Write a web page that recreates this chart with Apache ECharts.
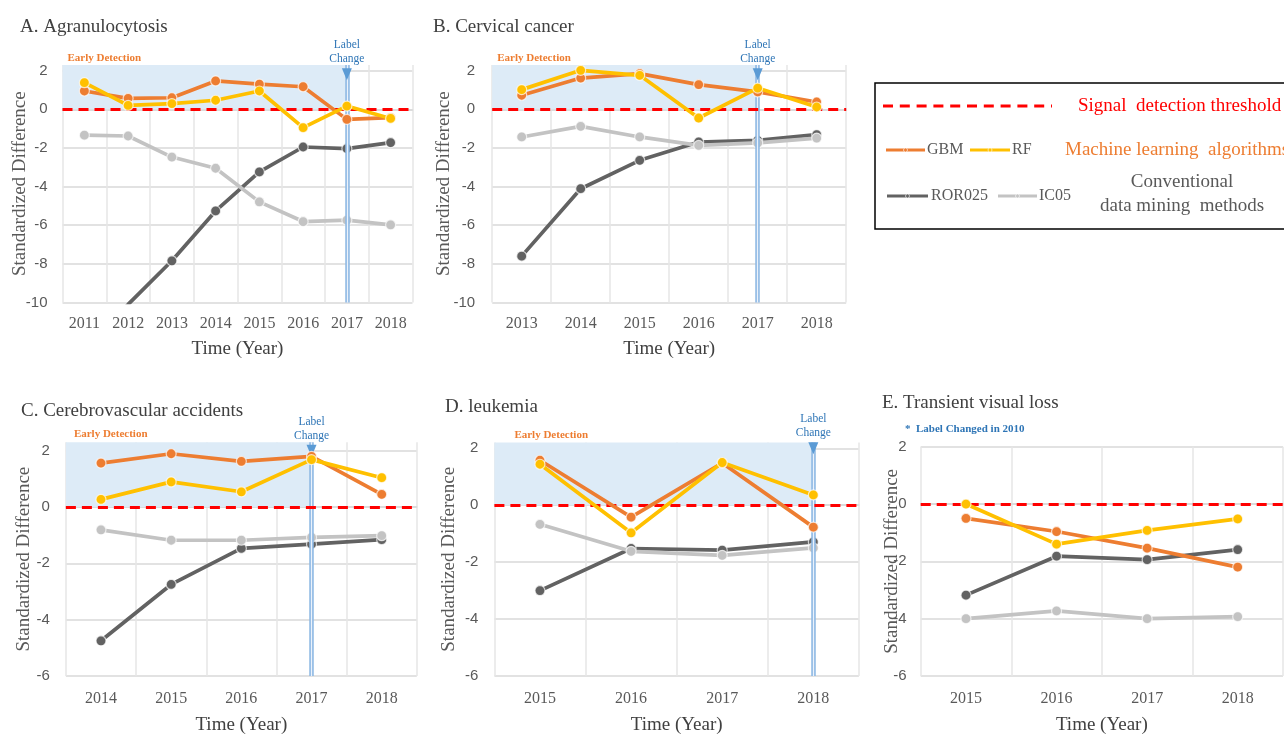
<!DOCTYPE html>
<html>
<head>
<meta charset="utf-8">
<script src="https://cdn.jsdelivr.net/npm/echarts@6/dist/echarts.min.js"></script>
<style>
html,body{margin:0;padding:0;background:#fff;}
#chart{width:1284px;height:736px;}
</style>
</head>
<body>
<div id="chart"></div>
<script>
// ---------------- DATA ----------------
const seriesNames = ['ROR025', 'IC05', 'GBM', 'RF'];

const yearsA = ['2011', '2012', '2013', '2014', '2015', '2016', '2017', '2018'];
const gbmA = [0.95, 0.57, 0.6, 1.47, 1.3, 1.17, -0.52, -0.43];
const rfA  = [1.38, 0.2, 0.3, 0.47, 0.95, -0.95, 0.17, -0.47];
const rorA = [-12.4, -10.1, -7.84, -5.26, -3.24, -1.95, -2.03, -1.72];
const icA  = [-1.34, -1.38, -2.47, -3.05, -4.79, -5.81, -5.74, -5.98];

const yearsB = ['2013', '2014', '2015', '2016', '2017', '2018'];
const gbmB = [0.73, 1.62, 1.85, 1.28, 0.9, 0.38];
const rfB  = [1.02, 2.02, 1.76, -0.45, 1.1, 0.12];
const rorB = [-7.6, -4.11, -2.64, -1.69, -1.61, -1.31];
const icB  = [-1.43, -0.88, -1.43, -1.87, -1.74, -1.49];

const yearsC = ['2014', '2015', '2016', '2017', '2018'];
const gbmC = [1.56, 1.89, 1.62, 1.8, 0.45];
const rfC  = [0.27, 0.89, 0.54, 1.68, 1.04];
const rorC = [-4.75, -2.75, -1.47, -1.32, -1.16];
const icC  = [-0.81, -1.18, -1.18, -1.08, -1.02];

const yearsD = ['2015', '2016', '2017', '2018'];
const gbmD = [1.58, -0.42, 1.48, -0.77];
const rfD  = [1.44, -0.97, 1.5, 0.36];
const rorD = [-3.0, -1.52, -1.58, -1.29];
const icD  = [-0.67, -1.62, -1.76, -1.5];

const yearsE = ['2015', '2016', '2017', '2018'];
const gbmE = [-0.5, -0.96, -1.54, -2.2];
const rfE  = [0.0, -1.4, -0.92, -0.52];
const rorE = [-3.18, -1.82, -1.94, -1.59];
const icE  = [-4.0, -3.73, -4.0, -3.93];

const titles = ['A. Agranulocytosis', 'B. Cervical cancer', 'C. Cerebrovascular accidents', 'D. leukemia', 'E. Transient visual loss'];
const labelChangeYear = ['2017', '2017', '2017', '2018', null];
const threshold = 0;
const yAxisName = 'Standardized Difference';
const xAxisName = 'Time (Year)';

// ---------------- STYLE / LAYOUT ----------------
const colors = { GBM: '#ED7D31', RF: '#FFC000', ROR025: '#626262', IC05: '#C3C3C3' };
const SERIF = 'Liberation Serif';
const SANS = 'Liberation Sans';
const GRID_C = '#D9D9D9';

const panels = [
  { years: yearsA, d: { GBM: gbmA, RF: rfA, ROR025: rorA, IC05: icA }, min: -10, max: 2.3,
    grid: { left: 62.5, top: 64.9, width: 350, height: 237.6 }, title: { left: 15, top: 13 },
    yGap: 33, yMargin: 15, xMargin: 13, xGap: 37, edOff: [5, -12], arrowOff: 3.5 },
  { years: yearsB, d: { GBM: gbmB, RF: rfB, ROR025: rorB, IC05: icB }, min: -10, max: 2.3,
    grid: { left: 492.2, top: 64.9, width: 354, height: 237.6 }, title: { left: 428, top: 13 },
    yGap: 39, yMargin: 17, xMargin: 13, xGap: 37, edOff: [5, -12], arrowOff: 3.5 },
  { years: yearsC, d: { GBM: gbmC, RF: rfC, ROR025: rorC, IC05: icC }, min: -6, max: 2.3,
    grid: { left: 65.9, top: 442.2, width: 350.9, height: 235.1 }, title: { left: 16, top: 397 },
    yGap: 32, yMargin: 16, xMargin: 15, xGap: 40, edOff: [8, -14], arrowOff: 0 },
  { years: yearsD, d: { GBM: gbmD, RF: rfD, ROR025: rorD, IC05: icD }, min: -6, max: 2.2,
    grid: { left: 494.4, top: 442.6, width: 364.5, height: 235.1 }, title: { left: 440, top: 393 },
    yGap: 36, yMargin: 16, xMargin: 15, xGap: 40, edOff: [20, -13], arrowOff: 0 },
  { years: yearsE, d: { GBM: gbmE, RF: rfE, ROR025: rorE, IC05: icE }, min: -6, max: 2,
    grid: { left: 920.7, top: 446.7, width: 362.3, height: 231 }, title: { left: 877, top: 389 },
    yGap: 19, yMargin: 14, xMargin: 15, xGap: 40, edOff: null, arrowOff: 0 }
];

const option = {
  backgroundColor: '#fff',
  animation: false,
  title: [], grid: [], xAxis: [], yAxis: [], series: [], graphic: []
};

panels.forEach((p, i) => {
  option.title.push({
    text: titles[i], left: p.title.left, top: p.title.top,
    textStyle: { fontFamily: SERIF, fontWeight: 'normal', fontSize: 19, color: '#404040' }
  });
  option.grid.push(Object.assign({ containLabel: false }, p.grid));
  option.xAxis.push({
    type: 'category', gridIndex: i, data: p.years, boundaryGap: true,
    name: xAxisName, nameLocation: 'middle', nameGap: p.xGap, nameMoveOverlap: false,
    nameTextStyle: { fontFamily: SERIF, fontSize: 19, color: '#404040' },
    axisLine: { show: true, lineStyle: { color: GRID_C, width: 1.5 } },
    axisTick: { show: false },
    axisLabel: { fontFamily: SERIF, fontSize: 16, color: '#595959', margin: p.xMargin },
    splitLine: { show: true, interval: 0, lineStyle: { color: '#E6E6E6', width: 1.5 } }
  });
  option.yAxis.push({
    type: 'value', gridIndex: i, min: p.min, max: p.max, interval: 2,
    name: yAxisName, nameLocation: 'middle', nameGap: p.yGap, nameRotate: 90, nameMoveOverlap: false,
    nameTextStyle: { fontFamily: SERIF, fontSize: 19, color: '#595959' },
    axisLine: { show: false }, axisTick: { show: false },
    axisLabel: {
      fontFamily: SANS, fontSize: 15, color: '#595959', margin: p.yMargin,
      formatter: v => (Math.abs(Math.round(v / 2) * 2 - v) < 1e-6 ? String(v) : '')
    },
    splitLine: { show: true, showMaxLine: p.max === 2, lineStyle: { color: GRID_C, width: 1.5 } }
  });

  seriesNames.forEach((name, k) => {
    const s = {
      name: name, type: 'line', xAxisIndex: i, yAxisIndex: i,
      data: p.d[name], clip: true,
      symbol: 'circle', symbolSize: 10, showAllSymbol: true,
      lineStyle: { color: colors[name], width: 3.7 },
      itemStyle: { color: colors[name], borderColor: 'rgba(255,255,255,0.7)', borderWidth: 1.2 },
      z: 3 + k
    };
    if (k === 0) {
      const lc = labelChangeYear[i];
      const mlData = [{ yAxis: threshold, lineStyle: { color: '#FF0000', width: 3, type: [10, 6] } }];
      if (lc) {
        mlData.unshift({ xAxis: lc, lineStyle: { color: '#EAF2FB', width: 1.3, type: 'solid' } });
        mlData.unshift({ xAxis: lc, lineStyle: { color: '#8DB8E3', width: 4.5, type: 'solid' } });
        s.markArea = {
          silent: true,
          itemStyle: { color: '#DDEBF7' },
          label: {
            show: true, position: p.edOff, formatter: 'Early Detection',
            fontFamily: SERIF, fontWeight: 'bold', fontSize: 11, color: '#ED7D31'
          },
          data: [[{ yAxis: threshold }, { xAxis: lc, yAxis: p.max }]]
        };
        s.markPoint = {
          silent: true,
          data: [{
            coord: [lc, 2], symbol: 'triangle', symbolRotate: 180, symbolSize: [10, 12],
            symbolOffset: [0, p.arrowOff], itemStyle: { color: '#5B9BD5' },
            label: {
              show: true, position: 'top', distance: 2, formatter: 'Label\nChange',
              fontFamily: SERIF, fontSize: 11.5, lineHeight: 14, color: '#2E75B6'
            }
          }]
        };
      }
      s.markLine = { silent: true, symbol: ['none', 'none'], label: { show: false }, data: mlData };
    }
    option.series.push(s);
  });
});

// Panel E annotation
option.graphic.push({
  type: 'text', left: 905, top: 424,
  style: { text: '*  Label Changed in 2010', fill: '#2E75B6', font: 'bold 11px "Liberation Serif"' }
});

// Legend box (drawn as graphic)
const lg = [];
lg.push({ type: 'rect', shape: { x: 875, y: 83, width: 440, height: 146 },
  style: { fill: '#fff', stroke: '#000', lineWidth: 1.5 } });
lg.push({ type: 'line', shape: { x1: 883, y1: 106, x2: 1052, y2: 106 },
  style: { stroke: '#FF0000', lineWidth: 3, lineDash: [10, 6.8] } });
lg.push({ type: 'text', x: 1078, y: 106,
  style: { text: 'Signal  detection threshold', fill: '#FF0000', font: '19px "Liberation Serif"', verticalAlign: 'middle' } });
function legendItem(x1, x2, y, name, tx) {
  lg.push({ type: 'line', shape: { x1: x1, y1: y, x2: x2, y2: y }, style: { stroke: colors[name], lineWidth: 3 } });
  lg.push({ type: 'circle', shape: { cx: (x1 + x2) / 2, cy: y, r: 2 }, style: { fill: colors[name], stroke: 'rgba(255,255,255,0.6)', lineWidth: 1 } });
  lg.push({ type: 'text', x: tx, y: y,
    style: { text: name, fill: '#595959', font: '16px "Liberation Serif"', verticalAlign: 'middle' } });
}
legendItem(886, 925, 150, 'GBM', 927);
legendItem(970, 1010, 150, 'RF', 1012);
legendItem(887, 928, 196, 'ROR025', 931);
legendItem(998, 1037, 196, 'IC05', 1039);
lg.push({ type: 'text', x: 1065, y: 150,
  style: { text: 'Machine learning  algorithms', fill: '#ED7D31', font: '19px "Liberation Serif"', verticalAlign: 'middle' } });
lg.push({ type: 'text', x: 1182, y: 182,
  style: { text: 'Conventional', fill: '#595959', font: '19px "Liberation Serif"', verticalAlign: 'middle', align: 'center' } });
lg.push({ type: 'text', x: 1182, y: 206,
  style: { text: 'data mining  methods', fill: '#595959', font: '19px "Liberation Serif"', verticalAlign: 'middle', align: 'center' } });
lg.forEach(g => { g.z = 100; option.graphic.push(g); });

const chart = echarts.init(document.getElementById('chart'), null, { renderer: 'canvas' });
chart.setOption(option);
</script>
</body>
</html>
